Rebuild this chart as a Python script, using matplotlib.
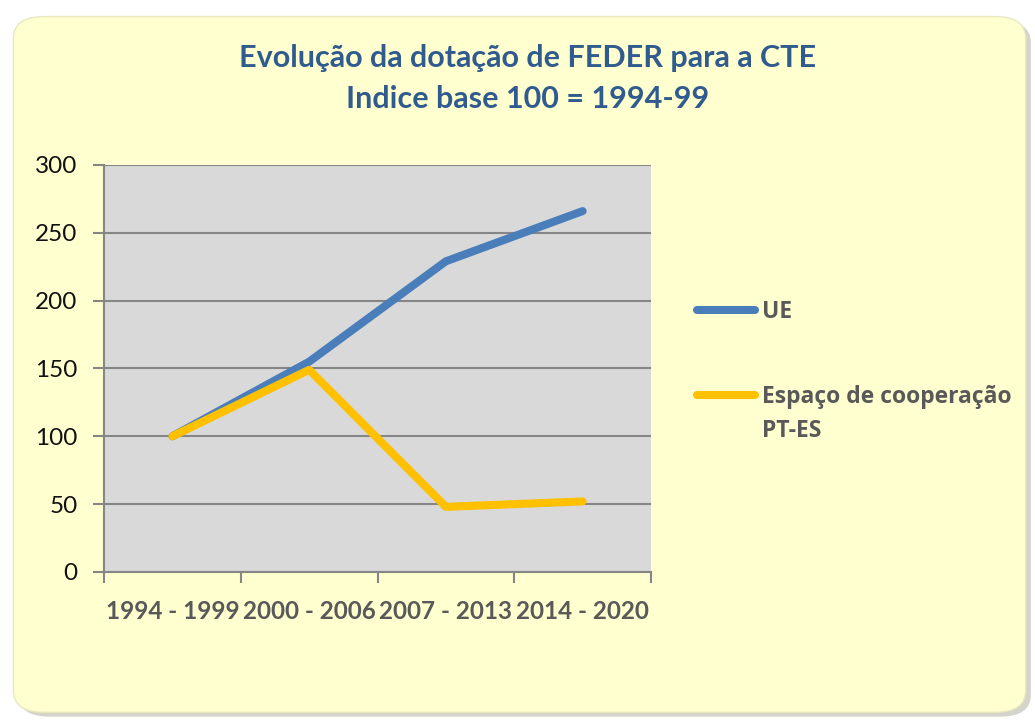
import numpy as np
import matplotlib
matplotlib.use("Agg")
import matplotlib.pyplot as plt
from matplotlib.patches import FancyBboxPatch
from matplotlib.lines import Line2D

periodos = ["1994 - 1999", "2000 - 2006", "2007 - 2013", "2014 - 2020"]
ue = [100, 155, 229, 266]
pt_es = [100, 149, 48, 52]
series_nomes = ["UE", "Espaço de cooperação\nPT-ES"]
cores = ["#4a7ebb", "#ffc000"]

plt.rcParams['font.family'] = ['Lato', 'DejaVu Sans']

fig = plt.figure(figsize=(10.35, 7.21), dpi=100)
fig.patch.set_facecolor("white")

# rounded background with a soft shadow (kept behind the axes)
shadow = FancyBboxPatch((0.018, 0.006), 0.978, 0.965, boxstyle="round,pad=0,rounding_size=0.03",
                        transform=fig.transFigure, facecolor="#b8b8a8", edgecolor="none", alpha=0.6, zorder=-2)
panel = FancyBboxPatch((0.013, 0.012), 0.978, 0.965, boxstyle="round,pad=0,rounding_size=0.03",
                       transform=fig.transFigure, facecolor="#ffffcf", edgecolor="#e8e8c0", lw=1, zorder=-1)
fig.add_artist(shadow)
fig.add_artist(panel)

ax = fig.add_axes([0.1005, 0.2067, 0.5285, 0.5645])
ax.set_facecolor("#d9d9d9")

x = np.arange(len(periodos))
for vals, cor in zip([ue, pt_es], cores):
    ax.plot(x, vals, color=cor, lw=5.8, solid_capstyle="round", solid_joinstyle="round", zorder=3)

ax.set_xlim(-0.5, len(periodos) - 0.5)
ax.set_ylim(0, 300)
ax.set_yticks(range(0, 301, 50))
ax.yaxis.grid(True, color="#868686", lw=1.5)
ax.set_axisbelow(True)

ax.set_xticks(np.arange(-0.5, len(periodos), 1))
ax.set_xticklabels([])
ax.set_xticks(x, minor=True)
ax.set_xticklabels(periodos, minor=True, fontsize=17.5, fontweight="bold", color="#595959")
ax.tick_params(axis="x", which="minor", length=0, pad=20)
ax.tick_params(axis="x", which="major", length=8, width=1.5, color="#868686")
ax.tick_params(axis="y", length=8, width=1.5, color="#868686", labelsize=17.5, labelcolor="#111111", pad=11)

for s in ["top", "right"]:
    ax.spines[s].set_visible(False)
for s in ["left", "bottom"]:
    ax.spines[s].set_color("#868686")
    ax.spines[s].set_linewidth(1.5)

fig.text(0.51, 0.92, "Evolução da dotação de FEDER para a CTE", ha="center", va="center",
         fontsize=22, fontweight="bold", color="#2f5b8f")
fig.text(0.51, 0.862, "Indice base 100 = 1994-99", ha="center", va="center",
         fontsize=22, fontweight="bold", color="#2f5b8f")

# legend drawn by hand so the handle sits on the first text line
leg_y = [1 - 310 / 721, 1 - 395 / 721]
for nome, cor, yy in zip(series_nomes, cores, leg_y):
    fig.add_artist(Line2D([697 / 1035, 755 / 1035], [yy, yy], transform=fig.transFigure,
                          color=cor, lw=5.8, solid_capstyle="round"))
    fig.text(762 / 1035, yy + 0.014, nome, ha="left", va="top", fontsize=16.5, fontweight="bold",
             color="#595959", family=["Open Sans", "DejaVu Sans"], linespacing=1.55)

fig.savefig("out.png", dpi=100)
